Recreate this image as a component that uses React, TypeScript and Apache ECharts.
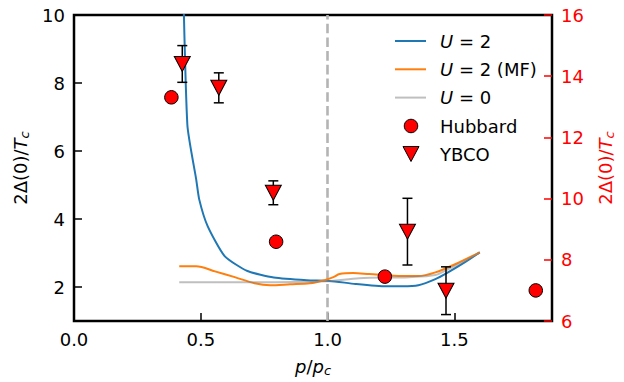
import React, { useEffect, useRef } from "react";
import * as echarts from "echarts";

const FONT = "DejaVu Sans";

const xTicks = [0, 0.5, 1.0, 1.5];
const leftTicks = [2, 4, 6, 8, 10];

// [p/pc, 2Δ(0)/Tc] on left axis
const u2 = [
  [0.425, 13.0], [0.447, 6.77], [0.482, 5.16], [0.494, 4.57], [0.527, 3.79],
  [0.594, 2.91], [0.684, 2.47], [0.788, 2.28], [0.918, 2.2], [1.008, 2.18],
  [1.11, 2.09], [1.23, 2.02], [1.296, 2.02], [1.358, 2.05], [1.425, 2.23],
  [1.475, 2.43], [1.542, 2.73], [1.6, 3.02],
];
const u2mf = [
  [0.415, 2.61], [0.482, 2.61], [0.556, 2.46], [0.634, 2.29], [0.712, 2.11],
  [0.774, 2.05], [0.852, 2.08], [0.93, 2.11], [0.988, 2.2], [1.023, 2.29],
  [1.047, 2.38], [1.101, 2.41], [1.164, 2.38], [1.296, 2.32], [1.358, 2.32],
  [1.425, 2.43], [1.503, 2.67], [1.6, 3.02],
];
const u0 = [
  [0.415, 2.14], [0.684, 2.14], [0.996, 2.17], [1.125, 2.26], [1.32, 2.29],
  [1.425, 2.35], [1.475, 2.52], [1.541, 2.76], [1.6, 3.02],
];

// right axis
const hubbard = [
  [0.384, 13.31], [0.797, 8.59], [1.226, 7.45], [1.821, 7.0],
];
// [x, y, err]
const ybco = [
  [0.427, 14.4, 0.6], [0.571, 13.62, 0.49], [0.786, 10.19, 0.39],
  [1.315, 8.92, 1.09], [1.467, 6.99, 0.78],
];

export default function App() {
  const ref = useRef<HTMLDivElement>(null);
  useEffect(() => {
    const chart = echarts.init(ref.current!, null, { renderer: "svg" });
    const subRich = (color: string) => ({
      i: { fontStyle: "italic", fontSize: 18, fontFamily: FONT, color, lineHeight: 22 },
      s: { fontStyle: "italic", fontSize: 13, fontFamily: FONT, color, lineHeight: 13, verticalAlign: "bottom" },
      n: { fontSize: 18, fontFamily: FONT, color, lineHeight: 22 },
    });
    const legendRich = {
      i: { fontStyle: "italic", fontSize: 18, fontFamily: FONT },
    };
    const lx0 = 395, lx1 = 426, tx = 440;
    const rows = [41, 69.3, 97.6, 126, 154];
    const option: any = {
      animation: false,
      backgroundColor: "#fff",
      grid: {
        left: 74, right: 66, top: 15, bottom: 60,
        show: true, borderColor: "#000", borderWidth: 2.5,
      },
      xAxis: {
        type: "value", min: 0, max: 1.885,
        axisLine: { show: false }, splitLine: { show: false },
        axisTick: { show: true, inside: true, length: 8, lineStyle: { color: "#000", width: 1.5 }, customValues: xTicks },
        axisLabel: { customValues: xTicks, formatter: (v: number) => v.toFixed(1), fontSize: 18, fontFamily: FONT, color: "#000", margin: 9 },
        name: "{i|p}{n|/}{i|p}{s|c}",
        nameLocation: "middle", nameGap: 34,
        nameTextStyle: { fontSize: 18, fontFamily: FONT, color: "#000", rich: subRich("#000") },
      },
      yAxis: [
        {
          type: "value", min: 1, max: 10, position: "left",
          axisLine: { show: false }, splitLine: { show: false },
          axisTick: { show: true, inside: true, length: 8, lineStyle: { color: "#000", width: 1.5 }, customValues: leftTicks },
          axisLabel: { customValues: leftTicks, formatter: (v: number) => String(v), fontSize: 18, fontFamily: FONT, color: "#000", margin: 9 },
          name: "{n|2Δ(0)/}{i|T}{s|c}",
          nameLocation: "middle", nameGap: 42, nameRotate: 90,
          nameTextStyle: { fontSize: 18, fontFamily: FONT, color: "#000", rich: subRich("#000") },
        },
        {
          type: "value", min: 6, max: 16, interval: 2, position: "right",
          axisLine: { show: false }, splitLine: { show: false },
          axisTick: { show: true, inside: true, length: 8, lineStyle: { color: "#ff0000", width: 1.5 } },
          axisLabel: { fontSize: 18, fontFamily: FONT, color: "#ff0000", margin: 9 },
          name: "{n|2Δ(0)/}{i|T}{s|c}",
          nameLocation: "middle", nameGap: 42, nameRotate: 90,
          nameTextStyle: { fontSize: 18, fontFamily: FONT, color: "#ff0000", rich: subRich("#ff0000") },
        },
      ],
      series: [
        {
          name: "U = 2", type: "line", data: u2, yAxisIndex: 0, showSymbol: false, symbol: "none",
          smooth: 0.2, lineStyle: { color: "#1f77b4", width: 2 }, z: 2, clip: true,
          markLine: {
            silent: true, symbol: "none", label: { show: false }, z: 1,
            lineStyle: { color: "#b4b4b4", width: 2.6, type: [9.6, 4.1] },
            data: [{ xAxis: 1 }],
          },
        },
        {
          name: "U = 2 (MF)", type: "line", data: u2mf, yAxisIndex: 0, showSymbol: false, symbol: "none",
          smooth: 0.3, lineStyle: { color: "#ff7f0e", width: 2 }, z: 2,
        },
        {
          name: "U = 0", type: "line", data: u0, yAxisIndex: 0, showSymbol: false, symbol: "none",
          smooth: 0.3, lineStyle: { color: "rgba(128,128,128,0.5)", width: 2 }, z: 2,
        },
        {
          name: "errbars", type: "custom", yAxisIndex: 1, data: ybco, z: 3,
          encode: { x: 0, y: 1 },
          renderItem: (params: any, api: any) => {
            const x = api.value(0), y = api.value(1), e = api.value(2);
            const t = api.coord([x, y + e]);
            const b = api.coord([x, y - e]);
            const cap = 5;
            const st = { stroke: "#000", lineWidth: 1.5 };
            return {
              type: "group",
              children: [
                { type: "line", shape: { x1: t[0], y1: t[1], x2: b[0], y2: b[1] }, style: st },
                { type: "line", shape: { x1: t[0] - cap, y1: t[1], x2: t[0] + cap, y2: t[1] }, style: st },
                { type: "line", shape: { x1: b[0] - cap, y1: b[1], x2: b[0] + cap, y2: b[1] }, style: st },
              ],
            };
          },
        },
        {
          name: "Hubbard", type: "scatter", yAxisIndex: 1, data: hubbard, z: 4,
          symbol: "circle", symbolSize: 13.5,
          itemStyle: { color: "#ff0000", borderColor: "#000", borderWidth: 1, opacity: 1 },
        },
        {
          name: "YBCO", type: "scatter", yAxisIndex: 1, data: ybco.map((d) => [d[0], d[1]]), z: 5,
          symbol: "triangle", symbolRotate: 180, symbolSize: [16, 15],
          itemStyle: { color: "#ff0000", borderColor: "#000", borderWidth: 1, opacity: 1 },
        },
      ],
      graphic: [
        { type: "line", shape: { x1: lx0, y1: rows[0], x2: lx1, y2: rows[0] }, style: { stroke: "#1f77b4", lineWidth: 2 } },
        { type: "line", shape: { x1: lx0, y1: rows[1], x2: lx1, y2: rows[1] }, style: { stroke: "#ff7f0e", lineWidth: 2 } },
        { type: "line", shape: { x1: lx0, y1: rows[2], x2: lx1, y2: rows[2] }, style: { stroke: "rgba(128,128,128,0.5)", lineWidth: 2 } },
        { type: "circle", shape: { cx: 411, cy: rows[3], r: 6.75 }, style: { fill: "#ff0000", stroke: "#000", lineWidth: 1 } },
        { type: "polygon", shape: { points: [[403, rows[4] - 7.5], [419, rows[4] - 7.5], [411, rows[4] + 7.5]] }, style: { fill: "#ff0000", stroke: "#000", lineWidth: 1 } },
        { type: "text", x: tx, y: rows[0], style: { text: "{i|U} = 2", rich: legendRich, fontSize: 18, fontFamily: FONT, fill: "#000", verticalAlign: "middle", align: "left" } },
        { type: "text", x: tx, y: rows[1], style: { text: "{i|U} = 2 (MF)", rich: legendRich, fontSize: 18, fontFamily: FONT, fill: "#000", verticalAlign: "middle", align: "left" } },
        { type: "text", x: tx, y: rows[2], style: { text: "{i|U} = 0", rich: legendRich, fontSize: 18, fontFamily: FONT, fill: "#000", verticalAlign: "middle", align: "left" } },
        { type: "text", x: tx, y: rows[3], style: { text: "Hubbard", fontSize: 18, fontFamily: FONT, fill: "#000", verticalAlign: "middle", align: "left" } },
        { type: "text", x: tx, y: rows[4], style: { text: "YBCO", fontSize: 18, fontFamily: FONT, fill: "#000", verticalAlign: "middle", align: "left" } },
      ],
    };
    chart.setOption(option);
    return () => chart.dispose();
  }, []);
  return (
    <div
      ref={ref}
      style={{ position: "absolute", left: 0, top: 0, width: 624, height: 382 }}
    />
  );
}
